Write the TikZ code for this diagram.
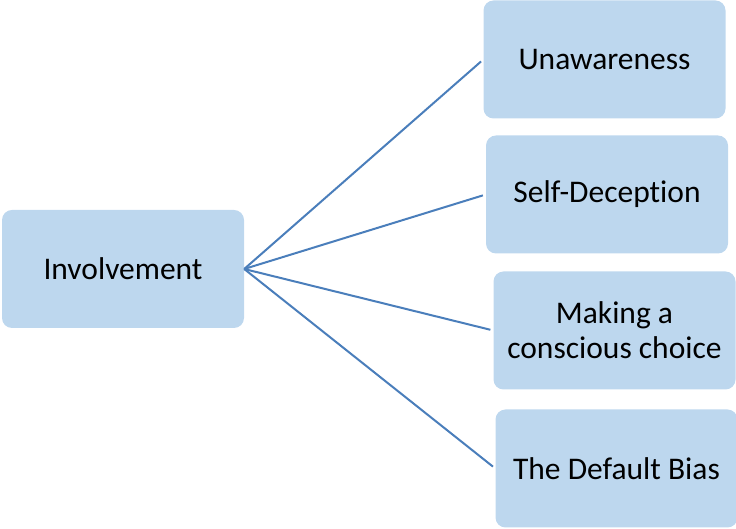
\documentclass[tikz,border=0pt]{standalone}
\usepackage{fontspec}
\setmainfont{Carlito}[Ligatures=NoCommon]
\definecolor{boxfill}{HTML}{BDD7EE}
\definecolor{linkline}{HTML}{4A7EBB}
\begin{document}
\begin{tikzpicture}[x=1pt, y=1pt,
  item/.style={rectangle, rounded corners=10pt, fill=boxfill, minimum width=242pt, minimum height=118pt, align=center, inner sep=0pt, font=\fontsize{31.5}{35}\selectfont},
  link/.style={draw=linkline, line width=2pt, shorten >=3pt}]
\useasboundingbox (0,0) rectangle (736,529);
\node[item] (Inv) at (123,260) {Involvement};
\node[item] (Unaw) at (604.5,469.5) {Unawareness};
\draw[link] (Inv.east) -- (Unaw.west);
\node[item] (Self) at (607,334.5) {Self-Deception};
\draw[link] (Inv.east) -- (Self.west);
\node[item] (Choice) at (614.5,198.5) {Making a\\conscious choice};
\draw[link] (Inv.east) -- (Choice.west);
\node[item] (Bias) at (616.5,60.5) {The Default Bias};
\draw[link] (Inv.east) -- (Bias.west);
\end{tikzpicture}
\end{document}
